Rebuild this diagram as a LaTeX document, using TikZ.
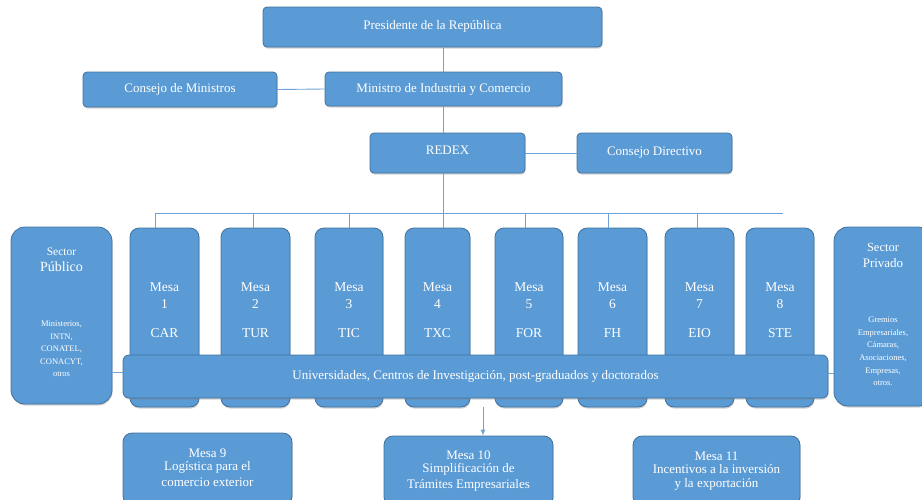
\documentclass[tikz,border=0pt]{standalone}
\usepackage{fontspec}
\setmainfont{Liberation Serif}
\usetikzlibrary{shadows,arrows.meta}
\definecolor{boxfill}{HTML}{5B9BD5}
\definecolor{boxline}{HTML}{41719C}
\definecolor{conn}{HTML}{6FA2D8}
\tikzset{
  box/.style={draw=boxline, line width=0.8pt, fill=boxfill, text=white, align=center,
    inner sep=1pt, rounded corners=#1,
    drop shadow={opacity=0.35, shadow xshift=0.6pt, shadow yshift=-1.6pt}},
  box/.default=4pt,
  wtxt/.style={text=white, align=center, inner sep=0pt},
  conline/.style={draw=conn, line width=0.9pt},
  bigf/.style={font=\fontsize{13}{16}\selectfont},
}
\newcommand{\mesabox}[5]{% name, x, w, num, code
  \node[box=9pt, minimum width=#3pt, minimum height=179pt] (#1) at (#2,317.5) {};
  \node[wtxt, font=\fontsize{13.5}{16.5}\selectfont] (#1t) at (#2,295.5) {Mesa\\#4};
  \node[wtxt, font=\fontsize{13.5}{16.5}\selectfont] (#1c) at (#2,333) {#5};
}
\begin{document}
\begin{tikzpicture}[x=1pt, y=-1pt]
\useasboundingbox (0,0) rectangle (922,499);
% top part
\node[box, minimum width=339pt, minimum height=40pt, bigf] (pres) at (432.5,27) {\raisebox{4pt}{Presidente de la República}};
\node[box, minimum width=194pt, minimum height=35pt, bigf] (cmin) at (180,89.5) {Consejo de Ministros};
\node[box, minimum width=237pt, minimum height=34pt, bigf] (mic) at (443.5,89) {Ministro de Industria y Comercio};
\node[box, minimum width=155pt, minimum height=40pt, bigf] (redex) at (447.5,153) {\raisebox{5pt}{REDEX}};
\node[box, minimum width=155pt, minimum height=40pt, bigf] (cdir) at (654.5,153) {\raisebox{3pt}{Consejo Directivo}};
% connectors top
\coordinate (pm) at (443,47);
\draw[conline] (pm) -- (pm |- mic.north);
\coordinate (mr) at (443,106);
\draw[conline] (mr) -- (mr |- redex.north);
\draw[conline] (cmin.east) -- (mic.west);
\draw[conline] (redex.east) -- (cdir.west);
% bus
\coordinate (rb) at (443,173);
\coordinate (bus) at (443,213);
\coordinate (busL) at (155,213);
\coordinate (busR) at (783,213);
\draw[conline] (rb) -- (bus);
\draw[conline] (busL) -- (busR);
% mesas
\mesabox{m1}{164.5}{69}{1}{CAR}
\mesabox{m2}{255.5}{69}{2}{TUR}
\mesabox{m3}{349}{68}{3}{TIC}
\mesabox{m4}{437.5}{65}{4}{TXC}
\mesabox{m5}{529}{68}{5}{FOR}
\mesabox{m6}{612.5}{69}{6}{FH}
\mesabox{m7}{699.5}{69}{7}{EIO}
\mesabox{m8}{780}{68}{8}{STE}
\foreach \n/\xx in {m1/155, m2/253, m3/349, m4/443, m5/525, m6/608, m7/697}{
  \coordinate (d\n) at (\xx,213);
  \draw[conline] (d\n) -- (d\n |- \n.north);
}
% sectors
\node[box=14pt, minimum width=101pt, minimum height=177pt] (spub) at (61.5,315.5) {};
\node[wtxt, font=\fontsize{11.5}{13}\selectfont] (spub1) at (61.5,252) {Sector};
\node[wtxt, font=\fontsize{14}{15}\selectfont] (spub2) at (61.5,267) {Público};
\node[wtxt, font=\fontsize{8.5}{12.5}\selectfont] (spub3) at (61.5,349) {Ministerios,\\INTN,\\CONATEL,\\CONACYT,\\otros};
\node[box=14pt, minimum width=98pt, minimum height=179pt] (spriv) at (883,316.5) {};
\node[wtxt, font=\fontsize{12.5}{13}\selectfont] (spriv1) at (883,247) {Sector};
\node[wtxt, font=\fontsize{13}{13}\selectfont] (spriv2) at (883,263) {Privado};
\node[wtxt, font=\fontsize{8.5}{12.6}\selectfont] (spriv3) at (883,351.5) {Gremios\\Empresariales,\\Cámaras,\\Asociaciones,\\Empresas,\\otros.};
% bar
\node[box=6pt, minimum width=705pt, minimum height=43pt, bigf] (bar) at (475.5,376.5) {\raisebox{3.5pt}{Universidades, Centros de Investigación, post-graduados y doctorados}};
\draw[conline] (spub.east |- 0,372) coordinate (c1) -- (c1 -| bar.west);
\draw[conline] (spriv.west |- 0,373) coordinate (c2) -- (c2 -| bar.east);
% bottom
\node[box=9pt, minimum width=169pt, minimum height=72pt, bigf] (m9) at (207.5,469) {\raisebox{3pt}{\shortstack{Mesa 9\\[1pt]Logística para el\\[1pt]comercio exterior}}};
\node[box=9pt, minimum width=169pt, minimum height=70pt, bigf] (m10) at (468.5,471) {\raisebox{1pt}{\shortstack{Mesa 10\\[1pt]Simplificación de\\[1pt]Trámites Empresariales}}};
\node[box=9pt, minimum width=167pt, minimum height=70pt, bigf] (m11) at (716.5,471) {\raisebox{1pt}{\shortstack{Mesa 11\\[1pt]Incentivos a la inversión\\[1pt]y la exportación}}};
\coordinate (ar) at (483,407);
\draw[conline, -{Latex[length=6pt,width=5pt]}] (ar) -- (ar |- m10.north);
\end{tikzpicture}
\end{document}
